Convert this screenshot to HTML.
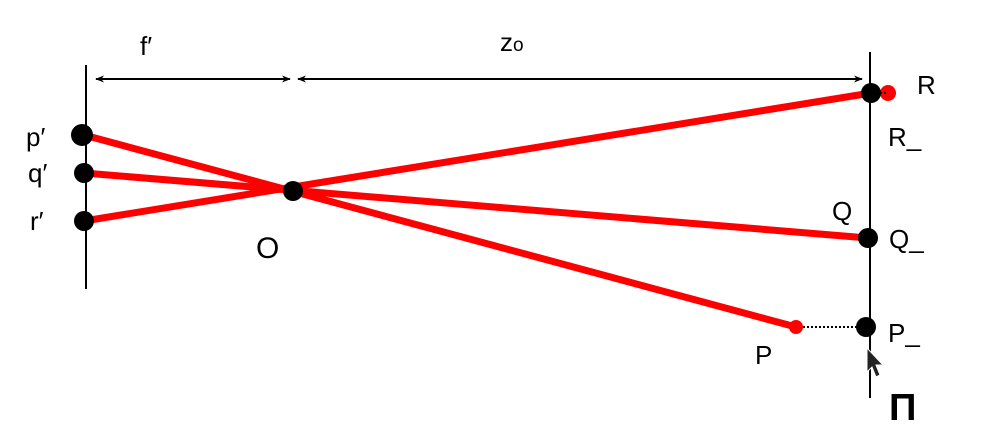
<!DOCTYPE html>
<html><head><meta charset="utf-8"><style>
html,body{margin:0;padding:0;background:#fff;}
svg{display:block;}
text{font-family:"Liberation Sans","DejaVu Sans",sans-serif;fill:#000;}
</style></head><body>
<svg width="986" height="447" viewBox="0 0 986 447" xmlns="http://www.w3.org/2000/svg">
<defs>
<marker id="a" viewBox="0 0 10 10" refX="9" refY="5" markerWidth="9" markerHeight="9" markerUnits="userSpaceOnUse" orient="auto-start-reverse">
<path d="M0,1 L10,5 L0,9 L3,5 z" fill="#000"/>
</marker>
</defs>
<rect width="986" height="447" fill="#fff"/>
<line x1="86" y1="65" x2="86" y2="289" stroke="#000" stroke-width="2"/>
<line x1="870" y1="52" x2="870" y2="398" stroke="#000" stroke-width="2"/>
<line x1="96" y1="79" x2="290" y2="79" stroke="#000" stroke-width="2" marker-start="url(#a)" marker-end="url(#a)"/>
<line x1="298" y1="79" x2="862" y2="79" stroke="#000" stroke-width="2" marker-start="url(#a)" marker-end="url(#a)"/>
<g stroke="#f00" stroke-width="7" stroke-linecap="round">
<line x1="84" y1="135" x2="796" y2="327"/>
<line x1="84" y1="173" x2="868" y2="238"/>
<line x1="84" y1="221" x2="871" y2="93"/>
</g>
<line x1="803" y1="327" x2="858" y2="327" stroke="#000" stroke-width="2" stroke-dasharray="2,2"/>
<circle cx="888" cy="93" r="8" fill="#f00"/>
<line x1="880" y1="93" x2="888" y2="93" stroke="#000" stroke-width="2" stroke-dasharray="2,2"/>
<circle cx="796" cy="327" r="7" fill="#f00"/>
<g fill="#000">
<circle cx="82" cy="135" r="11"/>
<circle cx="84" cy="173" r="10"/>
<circle cx="84" cy="221" r="10"/>
<circle cx="293" cy="191" r="10"/>
<circle cx="871" cy="93" r="10"/>
<circle cx="868" cy="238" r="10"/>
<circle cx="866" cy="327" r="10"/>
</g>
<path d="M867,348 L867,372 L872,367 L876,377 L880,375 L876,365 L883,365 Z" fill="#222" stroke="#fff" stroke-width="1"/>
<g font-size="26">
<text x="140" y="55">f′</text>
<text x="500" y="51">z<tspan font-size="19">o</tspan></text>
<text x="26" y="146">p′</text>
<text x="28" y="182">q′</text>
<text x="30" y="230">r′</text>
<text x="256" y="258" font-size="30">O</text>
<text x="917" y="94">R</text>
<text x="888" y="146">R_</text>
<text x="832" y="220">Q</text>
<text x="889" y="248">Q_</text>
<text x="888" y="342">P_</text>
<text x="755" y="364">P</text>
<text x="889" y="420" font-size="38" font-weight="bold">Π</text>
</g>
</svg>
</body></html>
